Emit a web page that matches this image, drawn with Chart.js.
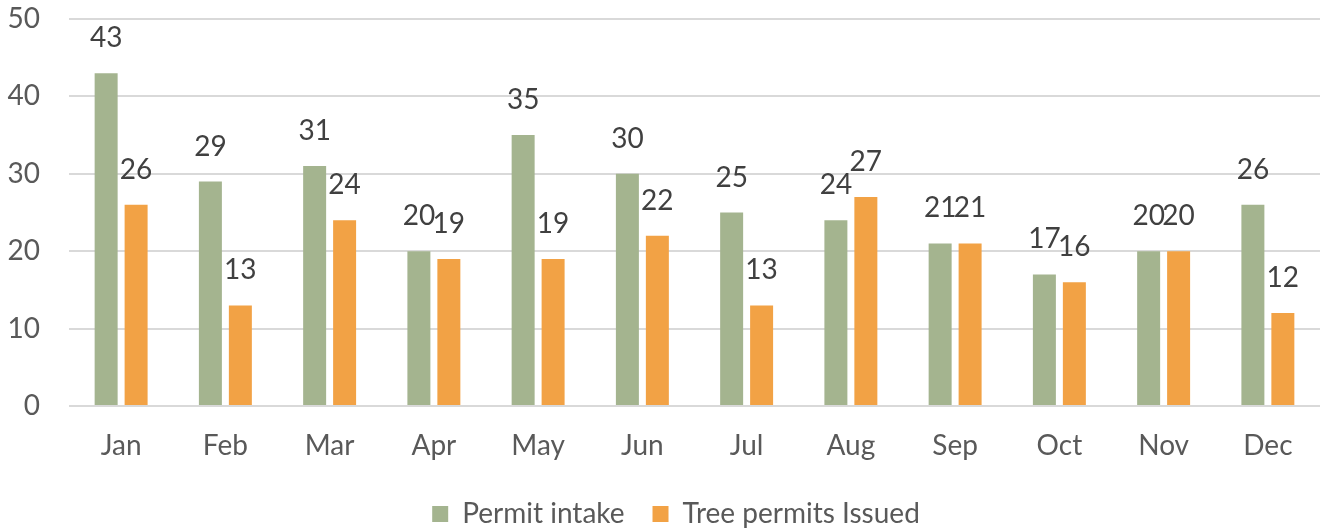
<!DOCTYPE html>
<html>
<head>
<meta charset="utf-8">
<script src="https://cdn.jsdelivr.net/npm/chart.js@4"></script>
<style>
  html, body { margin: 0; padding: 0; background: #ffffff; }
  #wrap { width: 1331px; height: 531px; position: relative; }
</style>
</head>
<body>
<div id="wrap"><canvas id="chart-permits"></canvas></div>
<script>
// ---- DATA ----
const months        = ['Jan', 'Feb', 'Mar', 'Apr', 'May', 'Jun', 'Jul', 'Aug', 'Sep', 'Oct', 'Nov', 'Dec'];
const permitIntake  = [43, 29, 31, 20, 35, 30, 25, 24, 21, 17, 20, 26];
const treeIssued    = [26, 13, 24, 19, 19, 22, 13, 27, 21, 16, 20, 12];
const yTicks        = [0, 10, 20, 30, 40, 50];

const FONT = 'Lato';
const FSIZE = 28;

// ---- value labels above each bar ----
const barLabels = {
  id: 'barLabels',
  afterDatasetsDraw(chart) {
    const ctx = chart.ctx;
    ctx.save();
    ctx.font = `${FSIZE}px ${FONT}`;
    ctx.fillStyle = '#404040';
    ctx.textAlign = 'center';
    ctx.textBaseline = 'alphabetic';
    chart.data.datasets.forEach((ds, i) => {
      chart.getDatasetMeta(i).data.forEach((bar, j) => {
        ctx.fillText(String(ds.data[j]), bar.x, bar.y - 26);
      });
    });
    ctx.restore();
  }
};

// ---- nudge the legend into place ----
const legendNudge = {
  id: 'legendNudge',
  afterLayout(chart) {
    const lg = chart.legend;
    if (!lg) return;
    lg.top += 7;  lg.bottom += 7;
    lg.left += 16; lg.right += 16;
  }
};

new Chart(document.getElementById('chart-permits'), {
  type: 'bar',
  data: {
    labels: months,
    datasets: [
      {
        label: 'Permit intake',
        data: permitIntake,
        backgroundColor: '#a4b48f',
        categoryPercentage: 0.575,
        barPercentage: 0.767,
      },
      {
        label: 'Tree permits Issued',
        data: treeIssued,
        backgroundColor: '#f2a245',
        categoryPercentage: 0.575,
        barPercentage: 0.767,
      }
    ]
  },
  plugins: [barLabels, legendNudge],
  options: {
    responsive: true,
    maintainAspectRatio: false,
    animation: false,
    layout: { padding: { top: 19, right: 11, left: 0, bottom: 0 } },
    plugins: {
      tooltip: { enabled: false },
      legend: {
        position: 'bottom',
        labels: {
          color: '#595959',
          font: { family: FONT, size: FSIZE },
          boxWidth: 16, boxHeight: 16,
          padding: 28,
        }
      }
    },
    scales: {
      x: {
        grid: { display: false, drawTicks: false },
        border: { display: false },
        ticks: { color: '#595959', font: { family: FONT, size: FSIZE }, padding: 23 },
        afterFit: s => { s.height = 59; s.paddingLeft = 0; s.paddingRight = 0; }
      },
      y: {
        min: 0, max: 50,
        afterBuildTicks: s => { s.ticks = yTicks.map(v => ({ value: v })); },
        grid: { color: '#d9d9d9', lineWidth: 2, drawTicks: false },
        border: { display: false },
        ticks: { color: '#595959', font: { family: FONT, size: FSIZE }, padding: 29 },
        afterFit: s => { s.width = 69; s.paddingTop = 0; s.paddingBottom = 0; }
      }
    }
  }
});
</script>
</body>
</html>
